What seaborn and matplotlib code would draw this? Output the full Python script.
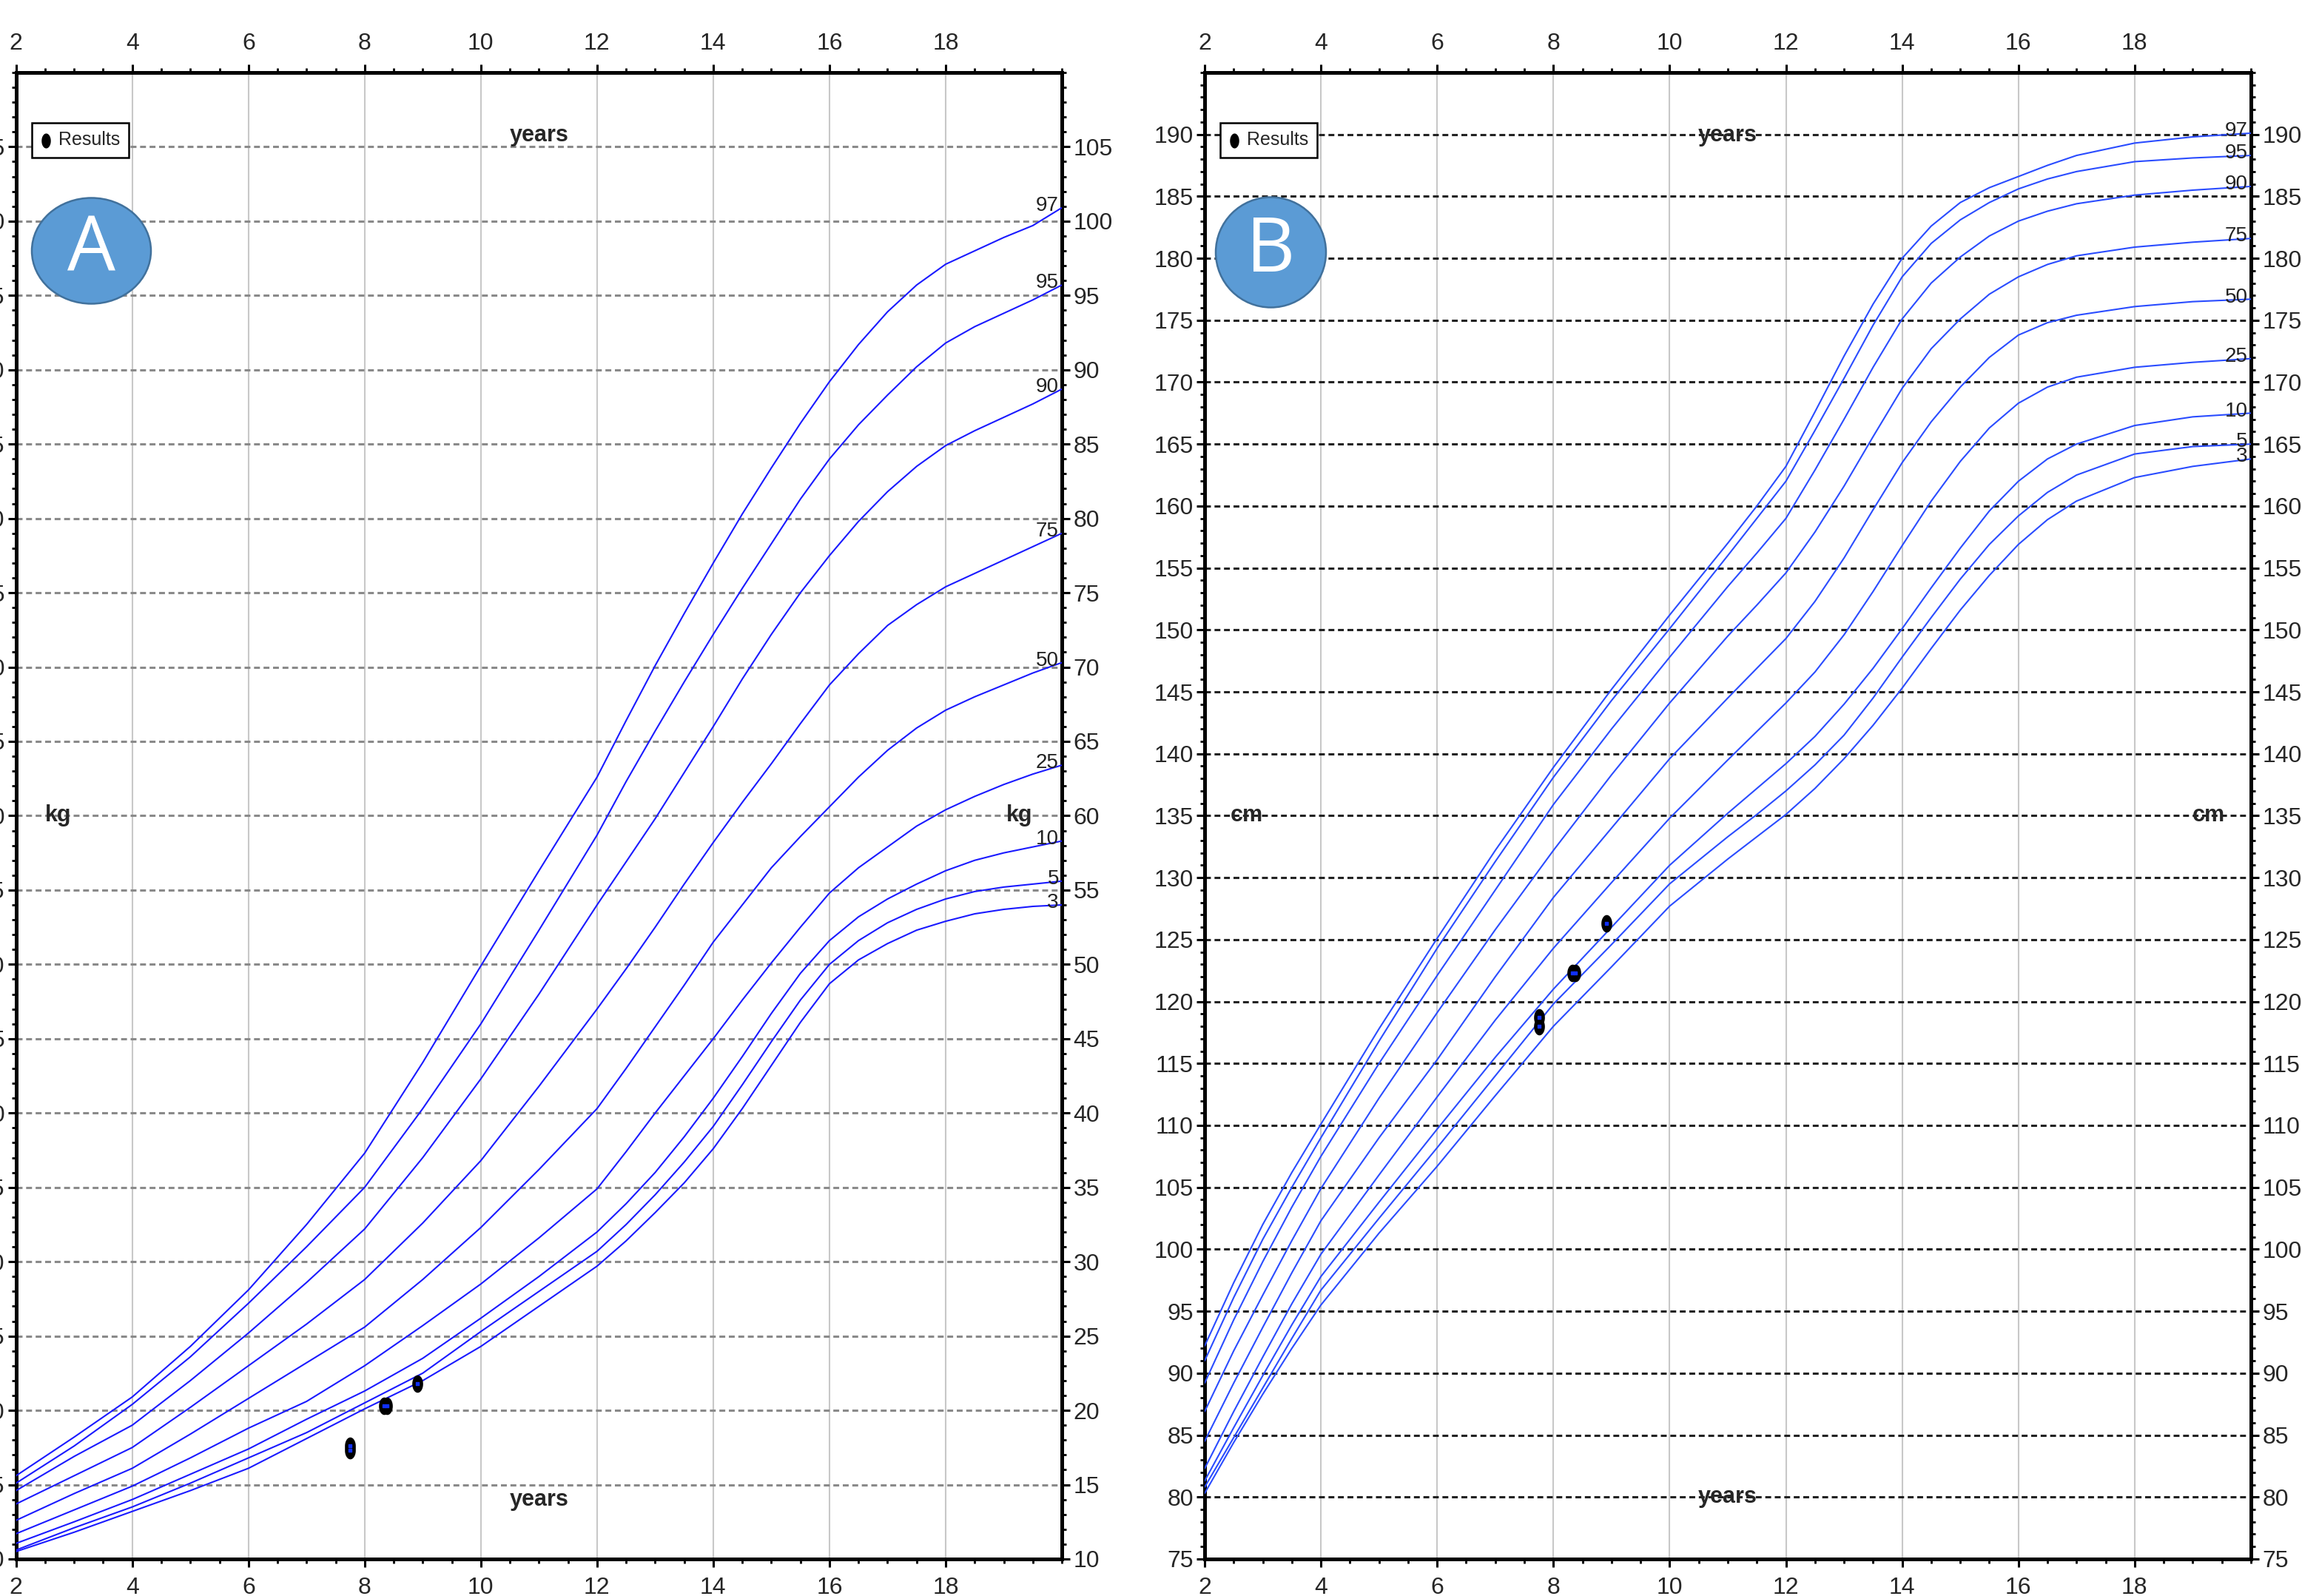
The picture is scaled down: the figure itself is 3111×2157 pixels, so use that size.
import numpy as np
import pandas as pd
import seaborn as sns
import matplotlib.pyplot as plt
from matplotlib.patches import Ellipse

percentiles = [97, 95, 90, 75, 50, 25, 10, 5, 3]

# Painel A - peso (kg)
ages_a = [2, 3, 4, 5, 6, 7, 8, 9, 10, 11, 12, 12.5, 13, 13.5, 14, 14.5, 15, 15.5,
          16, 16.5, 17, 17.5, 18, 18.5, 19, 19.5, 20]
w97 = [15.6, 18.2, 20.9, 24.3, 28.1, 32.5, 37.3, 43.4, 49.9, 56.3, 62.6, 66.4, 70.1, 73.6,
       77.0, 80.3, 83.4, 86.4, 89.2, 91.7, 93.9, 95.7, 97.1, 98.0, 98.9, 99.7, 100.9]
w95 = [15.1, 17.6, 20.4, 23.6, 27.2, 31.0, 35.0, 40.3, 46.0, 52.3, 58.7, 62.3, 65.7, 69.0,
       72.2, 75.3, 78.3, 81.3, 84.0, 86.3, 88.3, 90.2, 91.8, 92.9, 93.8, 94.7, 95.7]
w90 = [14.6, 16.9, 19.0, 22.0, 25.2, 28.6, 32.2, 37.0, 42.3, 48.0, 54.0, 56.9, 59.8, 62.9,
       66.0, 69.2, 72.2, 75.0, 77.5, 79.8, 81.8, 83.5, 84.9, 85.9, 86.8, 87.7, 88.7]
w75 = [13.7, 15.6, 17.5, 20.2, 23.0, 25.8, 28.8, 32.6, 36.8, 41.8, 47.0, 49.7, 52.5, 55.4,
       58.2, 60.9, 63.5, 66.2, 68.8, 70.9, 72.8, 74.2, 75.4, 76.3, 77.2, 78.1, 79.0]
w50 = [12.6, 14.4, 16.1, 18.4, 20.8, 23.2, 25.6, 28.8, 32.3, 36.2, 40.3, 43.0, 45.8, 48.6,
       51.5, 54.0, 56.5, 58.6, 60.6, 62.6, 64.4, 65.9, 67.1, 68.0, 68.8, 69.6, 70.3]
w25 = [11.7, 13.3, 14.9, 16.8, 18.8, 20.6, 23.0, 25.7, 28.5, 31.6, 34.9, 37.4, 40.0, 42.5,
       45.0, 47.6, 50.1, 52.5, 54.8, 56.5, 57.9, 59.3, 60.4, 61.3, 62.1, 62.8, 63.4]
w10 = [11.05, 12.5, 14.0, 15.7, 17.4, 19.4, 21.3, 23.5, 26.2, 29.0, 32.0, 33.9, 36.0, 38.4,
       41.0, 43.8, 46.7, 49.4, 51.6, 53.2, 54.4, 55.4, 56.3, 57.0, 57.5, 57.9, 58.3]
w5 = [10.6, 12.1, 13.5, 15.1, 16.8, 18.5, 20.5, 22.5, 25.3, 28.0, 30.7, 32.5, 34.5, 36.7,
      39.1, 41.9, 44.8, 47.6, 50.0, 51.6, 52.8, 53.7, 54.4, 54.9, 55.2, 55.4, 55.6]
w3 = [10.5, 11.8, 13.2, 14.6, 16.1, 18.1, 20.1, 22.0, 24.3, 27.0, 29.7, 31.4, 33.3, 35.3,
      37.6, 40.3, 43.2, 46.1, 48.7, 50.3, 51.4, 52.3, 52.9, 53.4, 53.7, 53.9, 54.0]

# Painel B - estatura (cm)
ages_b = [2, 2.5, 3, 3.5, 4, 5, 6, 7, 8, 9, 10, 11, 11.5, 12, 12.5, 13, 13.5, 14, 14.5,
          15, 15.5, 16, 16.5, 17, 18, 19, 20]
h97 = [92.2, 97.3, 102.0, 106.2, 110.1, 117.8, 125.1, 132.2, 138.9, 145.2, 151.2, 157.0, 160.0, 163.2,
       167.6, 172.1, 176.3, 180.0, 182.6, 184.5, 185.7, 186.6, 187.5, 188.3, 189.3, 189.8, 190.1]
h95 = [91.0, 96.1, 100.8, 105.0, 109.0, 116.8, 124.3, 131.3, 138.1, 144.3, 150.1, 156.0, 159.0, 162.0,
       166.1, 170.3, 174.6, 178.5, 181.2, 183.1, 184.5, 185.6, 186.4, 187.0, 187.8, 188.1, 188.3]
h90 = [89.2, 94.3, 99.0, 103.4, 107.5, 115.0, 122.1, 129.0, 135.9, 142.0, 147.8, 153.5, 156.2, 159.0,
       162.9, 167.0, 171.2, 175.1, 178.0, 180.1, 181.8, 183.0, 183.8, 184.4, 185.1, 185.5, 185.8]
h75 = [86.9, 91.8, 96.3, 100.7, 104.9, 112.2, 119.1, 125.8, 132.2, 138.3, 144.1, 149.5, 152.0, 154.6,
       157.9, 161.6, 165.6, 169.5, 172.7, 175.1, 177.1, 178.5, 179.5, 180.2, 180.9, 181.3, 181.6]
h50 = [84.5, 89.2, 93.7, 98.1, 102.3, 109.0, 115.3, 122.0, 128.4, 134.0, 139.6, 144.5, 146.9, 149.3,
       152.3, 155.8, 159.7, 163.5, 166.8, 169.6, 172.0, 173.8, 174.8, 175.4, 176.1, 176.5, 176.7]
h25 = [82.3, 86.9, 91.3, 95.6, 99.6, 106.0, 112.3, 118.5, 124.3, 129.6, 134.8, 139.5, 141.8, 144.1,
       146.6, 149.6, 153.1, 156.8, 160.4, 163.6, 166.3, 168.3, 169.6, 170.4, 171.2, 171.6, 171.9]
h10 = [81.3, 85.6, 89.8, 93.9, 97.8, 103.8, 109.7, 115.5, 121.0, 126.0, 131.0, 135.2, 137.2, 139.2,
       141.4, 144.0, 146.9, 150.1, 153.4, 156.6, 159.6, 162.0, 163.8, 165.0, 166.5, 167.2, 167.5]
h5 = [80.8, 84.8, 88.8, 92.8, 96.7, 102.5, 108.2, 114.0, 119.8, 124.6, 129.5, 133.3, 135.1, 137.0,
      139.1, 141.5, 144.5, 147.8, 151.0, 154.1, 156.9, 159.2, 161.1, 162.5, 164.2, 164.8, 165.0]
h3 = [80.3, 84.4, 88.3, 92.0, 95.5, 101.3, 106.7, 112.4, 118.0, 122.8, 127.7, 131.5, 133.3, 135.1,
      137.2, 139.6, 142.3, 145.3, 148.5, 151.6, 154.4, 156.9, 158.9, 160.4, 162.3, 163.2, 163.8]

# medidas do paciente
res_age = [7.75, 7.75, 8.33, 8.38, 8.91]
res_weight = [17.3, 17.6, 20.3, 20.3, 21.8]
res_height = [118.0, 118.7, 122.3, 122.3, 126.3]

sns.set_theme(style='white')
plt.rcParams['font.family'] = ['Liberation Sans', 'DejaVu Sans']

fig = plt.figure(figsize=(31.11, 21.57), dpi=100)
axA = fig.add_axes([0.00698, 0.0232, 0.4543, 0.9314])
axB = fig.add_axes([0.5233, 0.0232, 0.4545, 0.9314])

# marcador em forma de pílula, como no gráfico original
theta = np.linspace(0, 2 * np.pi, 40)
pill = np.column_stack([0.62 * np.cos(theta), np.sin(theta)])


def long_table(ages, series):
    rows = []
    for p, vals in zip(percentiles, series):
        for a, v in zip(ages, vals):
            rows.append({'age': a, 'value': v, 'pct': p})
    return pd.DataFrame(rows)


def draw_panel(ax, ages, series, ylim, ymaj, res_y, curve_color, dash_color, unit, letter_pos, letter):
    df = long_table(ages, series)
    sns.lineplot(data=df, x='age', y='value', units='pct', estimator=None,
                 color=curve_color, lw=1.5, ax=ax, legend=False, zorder=3)
    sns.scatterplot(x=res_age, y=res_y, marker=pill, s=290, color='black',
                    linewidth=0, ax=ax, label='Results', zorder=5)
    ax.scatter(res_age, res_y, marker='s', s=12, color='#1030ff', zorder=6)

    # rótulos dos percentis na ponta das curvas
    for p, vals in zip(percentiles, series):
        ax.annotate(str(p), xy=(20, vals[-1]), xytext=(-3, 2), textcoords='offset points',
                    ha='right', va='center', fontsize=20, color='#222222', zorder=4)

    ax.set_xlim(2, 20)
    ax.set_ylim(*ylim)
    ax.set_xticks(range(2, 19, 2))
    ax.set_xticks(np.arange(2, 20.01, 0.5), minor=True)
    ax.set_yticks(ymaj)
    ax.set_yticks(range(ylim[0], ylim[1] + 1), minor=True)
    ax.set_xlabel('')
    ax.set_ylabel('')

    ax.set_axisbelow(True)
    ax.grid(axis='x', which='major', color='#c8c8c8', lw=1.5, ls='-')
    ax.grid(axis='y', which='major', color=dash_color, lw=2.2, ls=(0, (2.6, 1.6)))

    ax.tick_params(which='both', direction='out', top=True, bottom=True, left=True, right=True,
                   labeltop=True, labelbottom=True, labelleft=True, labelright=True, color='black')
    ax.tick_params(which='major', length=8, width=2.2, labelsize=23)
    ax.tick_params(which='minor', length=4, width=2)
    ax.tick_params(axis='x', which='major', pad=9)
    ax.tick_params(axis='y', which='major', pad=3)
    for s in ax.spines.values():
        s.set_visible(True)
        s.set_color('black')
        s.set_linewidth(3.6)

    # textos de unidade
    ax.text(11, ylim[1] - (ylim[1] - ylim[0]) * 0.0425, 'years', ha='center', va='center',
            fontsize=22, fontweight='bold', zorder=4)
    ax.text(11, unit[2], 'years', ha='center', va='center', fontsize=22, fontweight='bold', zorder=4)
    ax.text(2.72, unit[1], unit[0], ha='center', va='center', fontsize=22, fontweight='bold', zorder=4)
    ax.text(19.27, unit[1], unit[0], ha='center', va='center', fontsize=22, fontweight='bold', zorder=4)

    leg = ax.legend(loc='upper left', bbox_to_anchor=(0.015, 0.966), borderaxespad=0,
                    fontsize=18, frameon=True, fancybox=False, framealpha=1,
                    handlelength=0.6, handletextpad=0.4, borderpad=0.45, markerscale=0.85)
    leg.get_frame().set_edgecolor('black')
    leg.get_frame().set_linewidth(1.8)

    # círculo com a letra do painel
    cx, cy, w, h = letter_pos
    fig.patches.append(Ellipse((cx / 3111, 1 - cy / 2157), w / 3111, h / 2157,
                               transform=fig.transFigure, facecolor='#5b9bd5',
                               edgecolor='#41719c', lw=1.8, zorder=10))
    fig.text(cx / 3111, 1 - cy / 2157, letter, ha='center', va='center', color='white',
             fontsize=74, family='Open Sans', zorder=11)


draw_panel(axA, ages_a, [w97, w95, w90, w75, w50, w25, w10, w5, w3], (10, 110), range(10, 106, 5),
           res_weight, '#1a1aff', '#8a8a8a', ('kg', 60, 14.0), (123.5, 339, 161, 143), 'A')
draw_panel(axB, ages_b, [h97, h95, h90, h75, h50, h25, h10, h5, h3], (75, 195), range(75, 191, 5),
           res_height, '#2a4cff', '#222222', ('cm', 135, 80.0), (1717.5, 341, 149, 149), 'B')

fig.savefig('out.png', dpi=100)
